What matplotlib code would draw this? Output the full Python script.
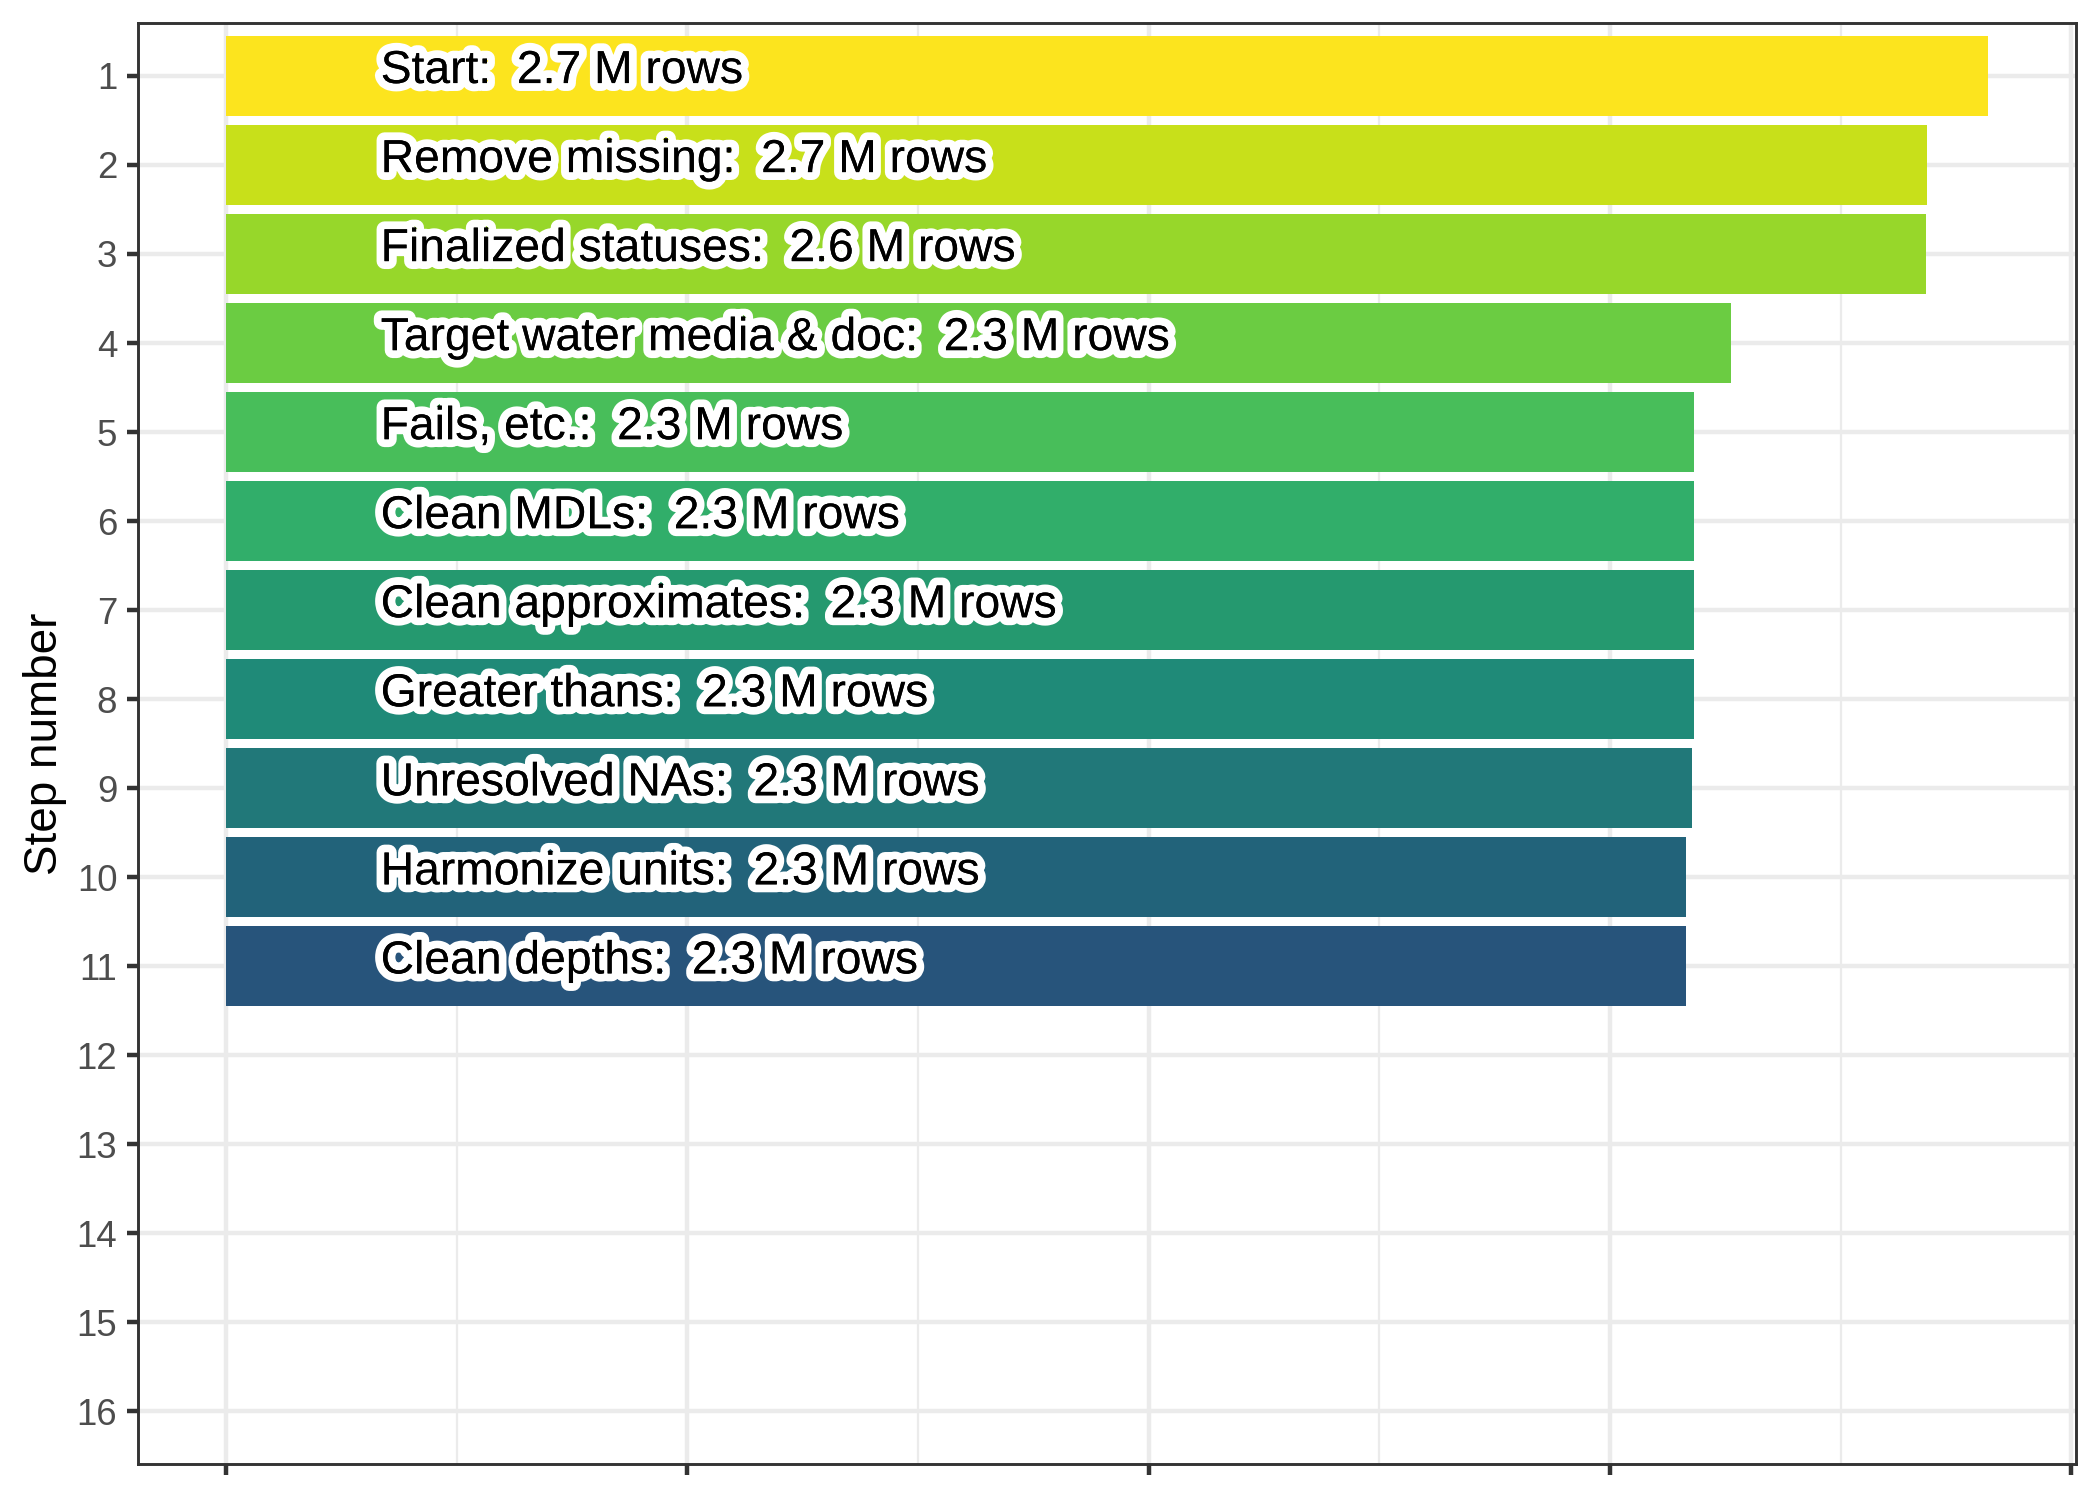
import matplotlib
matplotlib.use("Agg")
import matplotlib.pyplot as plt
import matplotlib.patheffects as pe
import numpy as np

# ---- data ----
steps = [1, 2, 3, 4, 5, 6, 7, 8, 9, 10, 11]
step_names = ["Start", "Remove missing", "Finalized statuses", "Target water media & doc",
              "Fails, etc.", "Clean MDLs", "Clean approximates", "Greater thans",
              "Unresolved NAs", "Harmonize units", "Clean depths"]
rows_millions = [2.746, 2.651, 2.649, 2.346, 2.288, 2.288, 2.288, 2.288, 2.284, 2.276, 2.276]
row_labels = ["2.7", "2.7", "2.6", "2.3", "2.3", "2.3", "2.3", "2.3", "2.3", "2.3", "2.3"]
y_ticks = list(range(1, 17))

# ---- style ----
bar_colors = ["#FCE41E", "#C8E01A", "#97D72A", "#6BCC42", "#48BE5A", "#31AE6A",
              "#25996F", "#1F8A78", "#217879", "#22637A", "#27547B"]
x_step = 0.719

plt.rcParams['font.family'] = ['Liberation Sans', 'DejaVu Sans']

fig = plt.figure(figsize=(7, 5), dpi=300)
ax = fig.add_axes([0.0657, 0.024, 0.9229, 0.9607])

xmax = max(rows_millions)
ax.set_xlim(-0.05 * xmax, 1.05 * xmax)
ax.set_ylim(16.59, 0.405)

major = np.arange(0, 1.05 * xmax, x_step)
ax.set_xticks(major)
ax.set_xticks(major[:-1] + x_step / 2, minor=True)
ax.set_yticks(y_ticks)
ax.set_yticklabels([str(t) for t in y_ticks])
ax.tick_params(axis='x', which='major', labelbottom=False, length=2.75, width=1.07, color="#333333")
ax.tick_params(axis='x', which='minor', length=0)
ax.tick_params(axis='y', length=2.75, width=1.07, color="#333333", labelcolor="#4D4D4D",
               labelsize=8.8, pad=2.2)

ax.grid(True, axis='x', which='major', color="#EBEBEB", lw=1.07)
ax.grid(True, axis='x', which='minor', color="#EBEBEB", lw=0.53)
ax.grid(True, axis='y', which='major', color="#EBEBEB", lw=1.07)
ax.set_axisbelow(True)
for s in ax.spines.values():
    s.set_color("#333333")
    s.set_linewidth(0.7)

ax.barh(steps, rows_millions, height=0.9, color=bar_colors, zorder=2)

for st, nm, lb in zip(steps, step_names, row_labels):
    ax.text(0.241, st + 0.08, f"{nm}:  {lb} M rows", ha='left', va='baseline',
            fontsize=11.1, color='black', zorder=3,
            path_effects=[pe.withStroke(linewidth=3.8, foreground='white'), pe.Normal()])

ax.set_ylabel("Step number", fontsize=11, color='black', labelpad=2.3)

fig.savefig("out.png", dpi=300)
